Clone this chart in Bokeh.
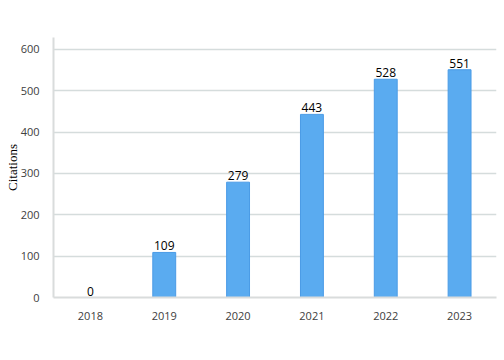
from bokeh.plotting import figure
from bokeh.models import ColumnDataSource, Range1d, LabelSet, FixedTicker
from bokeh.core.properties import value
from bokeh.embed import file_html
from bokeh.resources import INLINE

years = ["2018", "2019", "2020", "2021", "2022", "2023"]
citations = [0, 109, 279, 443, 528, 551]
yticks = [0, 100, 200, 300, 400, 500, 600]

src = ColumnDataSource(dict(x=years, y=citations, lab=[str(v) for v in citations]))

p = figure(x_range=years, y_range=Range1d(0, 629), width=504, height=344,
           output_backend="svg", toolbar_location=None,
           min_border_left=53, min_border_right=8, min_border_top=37, min_border_bottom=47)
p.outline_line_color = None

p.vbar(x="x", top="y", width=0.31, source=src, fill_color="#5AABF0",
       line_color="#4A9BE6", line_width=1)

labels = LabelSet(x="x", y="y", text="lab", source=src, text_align="center",
                  text_baseline="bottom", y_offset=2, text_font_size="12px",
                  text_color="#000000", text_font=value("Open Sans"))
p.add_layout(labels)

p.yaxis.ticker = FixedTicker(ticks=yticks)
p.yaxis.axis_label = "Citations"
p.yaxis.axis_label_text_font = "Liberation Serif"
p.yaxis.axis_label_text_font_style = "normal"
p.yaxis.axis_label_text_font_size = "13px"
p.yaxis.axis_label_text_color = "#000000"
p.yaxis.axis_label_standoff = -2
for ax in (p.xaxis, p.yaxis):
    ax.major_tick_line_color = None
    ax.minor_tick_line_color = None
    ax.major_label_text_font = "Open Sans"
    ax.major_label_text_font_size = "11px"
    ax.major_label_text_color = "#404040"
    ax.axis_line_color = "#D9DCDC"
    ax.axis_line_width = 2
p.yaxis.major_label_standoff = 8
p.xaxis.major_label_standoff = 8

p.xgrid.grid_line_color = None
p.ygrid.grid_line_color = "#D5DCDC"
p.ygrid.grid_line_width = 1.5
p.ygrid.ticker = FixedTicker(ticks=yticks)

open("out.html", "w").write(file_html(p, INLINE))
